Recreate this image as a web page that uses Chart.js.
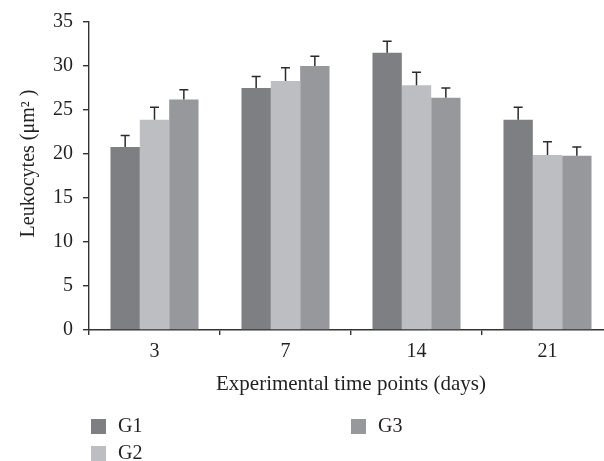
<!DOCTYPE html>
<html><head><meta charset="utf-8">
<script src="https://cdn.jsdelivr.net/npm/chart.js@4/dist/chart.umd.min.js"></script>
<style>
html,body{margin:0;padding:0;background:#fff;overflow:hidden;width:604px;height:461px;}
#wrap{position:relative;width:604px;height:461px;overflow:hidden;}
canvas{position:absolute;left:0;top:0;}
#legend{position:absolute;left:0;top:0;font-family:"Liberation Serif",serif;font-size:20px;color:#231f20;}
.item{position:absolute;height:15px;}
.box{position:absolute;left:0;top:0;width:15px;height:15px;}
.lab{position:absolute;left:27px;top:-5px;line-height:22px;white-space:nowrap;}
</style></head>
<body><div id="wrap"><canvas id="c" width="620" height="461"></canvas><div id="legend"></div></div>
<script>
const categories = ['3', '7', '14', '21'];
const seriesNames = ['G1', 'G2', 'G3'];
const g1 = [20.8, 27.5, 31.5, 23.9];
const g2 = [23.9, 28.3, 27.8, 19.9];
const g3 = [26.2, 30.0, 26.4, 19.8];
const g1Err = [1.3, 1.3, 1.3, 1.4];
const g2Err = [1.4, 1.5, 1.5, 1.5];
const g3Err = [1.1, 1.1, 1.1, 1.0];
const yTicks = [0, 5, 10, 15, 20, 25, 30, 35];

const FONT = '"Liberation Serif", "Times New Roman", serif';
const TXT = '#231f20';
const AXIS = '#333333';
const colors = ['#7e7f83', '#bdbec1', '#97989c'];

const errorBars = {
  id: 'errorBars',
  afterDatasetsDraw(chart) {
    const ctx = chart.ctx, ys = chart.scales.y;
    chart.data.datasets.forEach((ds, i) => {
      const meta = chart.getDatasetMeta(i);
      meta.data.forEach((bar, j) => {
        const top = ys.getPixelForValue(ds.data[j] + ds.errors[j]);
        ctx.save();
        ctx.strokeStyle = '#2b2b2b';
        ctx.lineWidth = 1.5;
        ctx.beginPath();
        ctx.moveTo(bar.x, bar.y);
        ctx.lineTo(bar.x, top);
        ctx.moveTo(bar.x - 4.5, top);
        ctx.lineTo(bar.x + 4.5, top);
        ctx.stroke();
        ctx.restore();
      });
    });
  }
};

const htmlLegend = {
  id: 'htmlLegend',
  afterUpdate(chart) {
    const el = document.getElementById('legend');
    el.innerHTML = '';
    chart.data.datasets.forEach((ds, i) => {
      const col = Math.floor(i / 2), row = i % 2;
      const it = document.createElement('div');
      it.className = 'item';
      it.style.left = (91 + col * 260) + 'px';
      it.style.top = (419 + row * 27) + 'px';
      const b = document.createElement('div');
      b.className = 'box';
      b.style.background = ds.backgroundColor;
      const t = document.createElement('div');
      t.className = 'lab';
      t.textContent = ds.label;
      it.appendChild(b); it.appendChild(t);
      el.appendChild(it);
    });
  }
};

new Chart(document.getElementById('c'), {
  type: 'bar',
  data: {
    labels: categories,
    datasets: [
      { label: seriesNames[0], data: g1, errors: g1Err, backgroundColor: colors[0] },
      { label: seriesNames[1], data: g2, errors: g2Err, backgroundColor: colors[1] },
      { label: seriesNames[2], data: g3, errors: g3Err, backgroundColor: colors[2] }
    ]
  },
  options: {
    responsive: false,
    animation: false,
    layout: { padding: { top: 20, bottom: 64, left: 0, right: 7 } },
    datasets: { bar: { barPercentage: 1, categoryPercentage: 0.672, borderWidth: 0 } },
    plugins: { legend: { display: false }, tooltip: { enabled: false } },
    scales: {
      x: {
        afterFit: s => { s.height = 67; },
        border: { color: AXIS, width: 1.4 },
        grid: { drawOnChartArea: false, drawTicks: true, tickLength: 5, color: AXIS, lineWidth: 1.4, offset: true },
        ticks: { padding: 5, color: TXT, font: { family: FONT, size: 20 } },
        title: { display: true, text: 'Experimental time points (days)', color: TXT, padding: 0, font: { family: FONT, size: 21 } }
      },
      y: {
        min: 0, max: 35,
        afterBuildTicks: s => { s.ticks = yTicks.map(v => ({ value: v })); },
        afterFit: s => { s.width = 89; },
        border: { color: AXIS, width: 1.4 },
        grid: { drawOnChartArea: false, drawTicks: true, tickLength: 6, color: AXIS, lineWidth: 1.4 },
        ticks: { padding: 10, color: TXT, font: { family: FONT, size: 20 } },
        title: { display: true, text: '     Leukocytes (μm² )', color: TXT, padding: { top: 17, bottom: 0 }, font: { family: FONT, size: 20 } }
      }
    }
  },
  plugins: [errorBars, htmlLegend]
});
</script>
</body></html>
